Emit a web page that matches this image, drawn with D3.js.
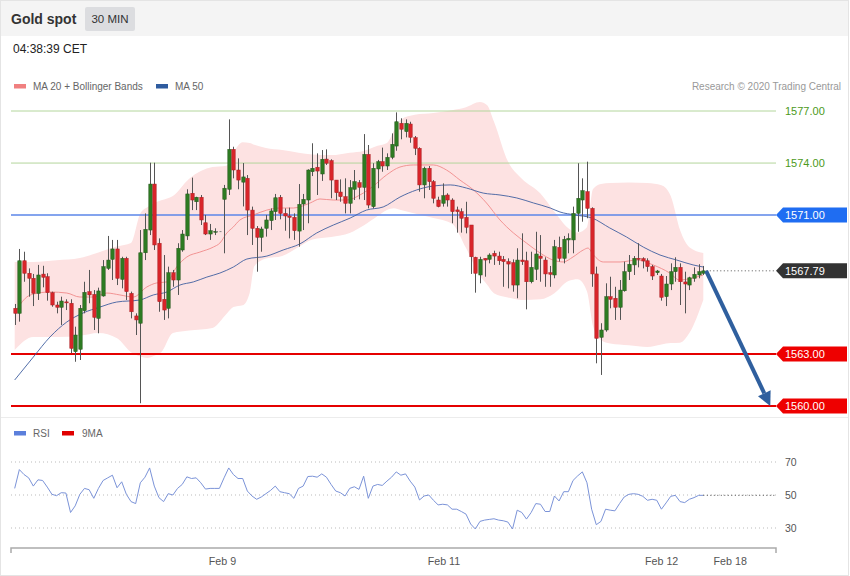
<!DOCTYPE html>
<html><head><meta charset="utf-8">
<script src="https://cdn.jsdelivr.net/npm/d3@7"></script>
<style>body{margin:0;background:#fff;}svg{display:block;font-family:"Liberation Sans",Arial,sans-serif;}</style>
</head><body><svg id="c" width="850" height="576"></svg>
<script>
// ---------- DATA ----------
const title = "Gold spot";
const period = "30 MIN";
const timeLabel = "04:38:39 CET";
const credit = "Research \u00A9 2020 Trading Central";

const opens = [1565.63,1565.34,1568.37,1567.65,1567.36,1566.49,1567.60,1567.45,1566.53,1565.82,
1565.69,1566.00,1565.92,1563.13,1563.27,1565.49,1566.59,1566.43,1565.05,1566.34,
1567.93,1568.45,1569.05,1567.30,1568.51,1566.49,1565.19,1564.77,1568.83,1570.14,
1572.79,1569.38,1566.15,1565.63,1567.68,1567.26,1568.99,1569.80,1572.26,1571.77,
1572.03,1570.56,1569.91,1570.05,1570.05,1571.91,1572.49,1574.79,1573.60,1572.90,
1573.12,1571.29,1570.24,1569.72,1570.24,1570.68,1571.20,1572.03,1571.10,1570.95,
1570.87,1570.08,1571.64,1571.87,1573.50,1573.76,1573.37,1574.23,1574.14,1573.02,
1572.33,1572.06,1571.68,1572.49,1572.87,1572.60,1574.50,1571.49,1573.66,1574.08,
1573.83,1574.33,1574.98,1576.29,1575.81,1576.25,1575.46,1574.85,1572.74,1573.70,
1572.93,1571.87,1571.68,1572.16,1571.87,1571.30,1571.20,1570.87,1570.43,1568.57,
1567.55,1568.51,1568.45,1568.80,1568.64,1568.45,1568.32,1568.26,1566.97,1568.41,
1568.37,1567.16,1567.88,1568.64,1568.41,1567.68,1567.55,1569.14,1568.51,1569.57,
1569.57,1571.10,1571.87,1572.35,1571.39,1567.61,1563.96,1564.38,1566.30,1566.21,
1565.69,1566.64,1567.74,1568.13,1568.51,1568.49,1568.37,1568.03,1567.68,1567.49,
1566.30,1567.03,1567.74,1567.99,1567.15,1566.97,1567.36,1567.55,1567.65];
const highs = [1565.88,1569.05,1568.89,1567.93,1567.61,1568.13,1568.08,1567.65,1566.59,1566.01,
1566.30,1566.15,1566.15,1564.57,1565.82,1567.16,1567.84,1566.68,1566.82,1568.41,
1569.80,1569.57,1569.57,1568.60,1568.60,1566.59,1565.34,1570.14,1571.10,1574.02,
1574.02,1569.66,1568.70,1568.03,1567.84,1569.38,1570.14,1572.49,1573.16,1572.06,
1572.16,1571.01,1570.49,1570.24,1570.05,1572.74,1576.52,1574.94,1574.27,1574.00,
1573.31,1571.49,1570.37,1570.33,1571.01,1571.39,1572.22,1572.16,1571.39,1571.43,
1571.10,1572.79,1572.22,1573.64,1575.14,1574.56,1574.75,1574.79,1574.22,1573.02,
1573.06,1573.12,1573.02,1573.60,1573.02,1575.67,1575.04,1573.99,1574.18,1574.89,
1574.56,1575.71,1576.92,1576.58,1576.52,1576.38,1575.56,1574.91,1573.79,1573.83,
1573.02,1572.06,1572.83,1572.26,1571.97,1571.49,1571.39,1571.77,1570.43,1568.60,
1568.60,1568.51,1568.80,1568.95,1568.89,1568.64,1568.51,1568.45,1569.09,1569.95,
1568.89,1568.89,1570.04,1569.85,1568.57,1568.07,1569.57,1569.76,1569.80,1569.95,
1571.49,1573.99,1573.12,1574.08,1571.45,1568.03,1564.77,1567.07,1567.45,1566.87,
1567.26,1568.32,1568.70,1568.64,1569.38,1568.57,1568.51,1568.13,1567.84,1567.61,
1567.49,1568.22,1568.57,1568.22,1567.74,1567.45,1567.99,1568.17,1568.07];
const lows = [1564.67,1564.86,1567.16,1566.30,1565.76,1566.11,1566.84,1566.07,1565.72,1565.34,
1564.67,1565.53,1563.04,1562.55,1562.65,1565.34,1565.92,1564.38,1564.19,1566.30,
1567.84,1567.26,1566.97,1566.78,1566.11,1565.05,1564.09,1560.16,1568.41,1569.85,
1568.99,1565.43,1564.96,1565.05,1566.87,1566.40,1568.89,1569.57,1571.29,1571.29,
1570.43,1569.85,1569.57,1569.85,1570.05,1568.80,1572.16,1573.12,1572.49,1571.50,
1569.85,1569.28,1567.74,1568.89,1569.76,1570.14,1570.72,1570.76,1570.10,1569.66,
1569.57,1569.18,1570.14,1570.53,1573.25,1572.16,1572.97,1573.89,1571.97,1571.87,
1571.77,1571.10,1571.10,1571.87,1571.91,1571.87,1571.39,1571.39,1572.55,1573.50,
1573.60,1574.22,1574.71,1575.37,1575.48,1575.17,1574.46,1572.35,1571.97,1572.45,
1571.68,1571.45,1571.49,1571.49,1570.53,1569.99,1569.99,1569.95,1567.61,1566.53,
1567.07,1567.45,1568.22,1568.13,1568.13,1566.87,1566.78,1566.59,1566.21,1568.13,
1565.57,1567.07,1567.26,1567.16,1566.87,1566.87,1567.36,1568.32,1568.22,1568.80,
1568.80,1570.04,1570.62,1570.82,1566.87,1562.46,1561.79,1564.28,1565.63,1564.96,
1564.96,1566.59,1567.26,1567.55,1567.99,1567.93,1567.74,1567.26,1567.55,1566.07,
1565.76,1566.68,1567.16,1565.82,1565.34,1566.68,1567.16,1567.36,1567.55];
const closes = [1565.34,1568.37,1567.65,1567.36,1566.49,1567.55,1567.42,1566.53,1565.82,1565.69,
1566.05,1565.98,1563.32,1564.09,1565.63,1566.55,1566.40,1565.11,1566.63,1568.03,
1568.41,1569.05,1567.36,1568.51,1566.59,1565.43,1564.96,1568.83,1570.18,1572.79,
1569.28,1566.01,1565.53,1567.68,1567.26,1569.09,1569.91,1572.22,1571.87,1572.03,
1570.72,1569.91,1570.10,1570.07,1570.05,1572.55,1574.79,1573.60,1573.02,1573.20,
1571.29,1570.24,1569.72,1570.20,1570.72,1571.24,1572.00,1571.10,1570.95,1570.87,
1570.10,1571.62,1571.91,1573.60,1573.70,1573.54,1574.22,1573.99,1573.02,1572.29,
1572.06,1571.68,1572.58,1572.93,1572.60,1574.50,1571.58,1573.70,1574.08,1573.83,
1574.33,1575.08,1576.38,1575.95,1576.29,1575.48,1574.85,1572.74,1573.70,1572.93,
1571.97,1571.49,1572.12,1571.87,1571.20,1571.20,1570.82,1570.30,1568.60,1567.65,
1568.45,1568.41,1568.70,1568.64,1568.37,1568.32,1568.18,1566.97,1568.41,1568.32,
1567.16,1567.99,1568.76,1568.51,1567.61,1567.59,1569.18,1568.51,1569.61,1569.66,
1571.10,1571.97,1572.41,1571.39,1567.61,1563.90,1564.38,1566.30,1566.15,1565.69,
1566.68,1567.74,1568.17,1568.51,1568.45,1568.36,1568.03,1567.49,1567.78,1566.26,
1567.03,1567.74,1567.99,1567.16,1567.03,1567.39,1567.59,1567.74,1567.79];

// moving averages and bands, read at sample candle positions
const ma20Idx = [0,2.6,4,7.6,11.2,14,16.9,19.8,22.6,25.5,28.4,30.5,32.7,34.8,37,39.8,42.7,44.1,45.6,47,48.4,51.3,54.2,57,59.9,63.5,65.6,68.5,71.4,74.2,77.1,79.9,82.8,85.7,90,92.8,95.7,98.6,101.4,104.3,107.2,110,112.9,115.7,117.9,120,122.2,123.2,124.4,126.5,130.1,133.7,137.2,140.8,142.9,145.8,148];
const ma20Val = [1565.36,1566.28,1566.45,1566.57,1566.51,1566.28,1566.28,1566.51,1566.40,1566.28,1566.86,1567.09,1567.15,1568.01,1568.59,1568.87,1569.16,1569.39,1569.97,1570.32,1570.72,1571.01,1571.29,1571.41,1571.41,1571.70,1571.93,1571.87,1571.87,1572.16,1572.68,1573.31,1573.77,1573.89,1573.89,1573.60,1573.02,1572.45,1571.70,1570.72,1569.97,1569.39,1568.82,1568.41,1568.30,1568.59,1568.99,1569.10,1568.70,1568.30,1568.30,1568.41,1568.13,1567.66,1567.26,1567.38,1567.55];
const ma50Idx = [0,4,7.6,11.2,14.7,18.3,21.9,26.9,29.8,32.7,35.5,38.4,41.3,44.1,47,49.9,54.2,57.7,61.3,64.9,68.5,72.1,75.6,79.2,82.8,86.4,90,93.6,97.1,100.7,104.3,107.9,111.5,115.1,117.2,120.4,124.1,127.9,131.5,135.1,138.7,142.3,145.8,148];
const ma50Val = [1561.50,1562.82,1563.98,1564.84,1565.36,1565.70,1565.99,1566.11,1566.40,1566.57,1566.97,1567.15,1567.43,1567.66,1568.01,1568.47,1568.64,1568.99,1569.34,1569.97,1570.43,1570.83,1571.29,1571.47,1572.04,1572.45,1572.68,1572.74,1572.56,1572.27,1572.16,1571.99,1571.70,1571.41,1571.18,1571.01,1570.83,1570.26,1569.74,1569.16,1568.70,1568.41,1568.13,1568.01];
const bandIdx = [0,4,9,14,18,22,25,27,28.5,30,31.5,34,37.5,42.5,45.5,47,49,50.5,51.5,54,57.5,61,64,68,72,75,78,80,81.5,83,86,90,94,97,100,101.5,103,106,109,113,116,119,121,123,124.3,126,128,132,136,139,141,143,145,148];
const bandUpper = [1568.30,1568.30,1568.40,1568.53,1568.85,1569.20,1569.40,1571.10,1571.45,1571.70,1571.85,1572.10,1573.10,1573.77,1573.85,1574.60,1575.20,1575.16,1575.05,1574.87,1574.75,1574.60,1574.50,1574.46,1574.60,1574.70,1575.00,1575.16,1575.85,1576.50,1576.78,1576.88,1577.05,1577.22,1577.52,1577.35,1576.40,1574.10,1573.10,1572.25,1571.20,1570.25,1570.00,1570.30,1572.50,1572.80,1572.85,1572.88,1572.85,1572.72,1572.10,1570.14,1569.15,1568.82];
const bandLower = [1563.23,1563.98,1563.98,1564.05,1564.21,1563.90,1563.10,1562.85,1562.77,1562.90,1563.10,1564.21,1564.35,1564.50,1565.30,1565.70,1565.80,1566.51,1568.05,1568.50,1568.65,1569.16,1569.60,1569.74,1569.97,1570.40,1570.95,1571.30,1571.40,1571.29,1571.10,1570.83,1570.50,1569.10,1567.50,1567.00,1566.50,1566.25,1566.11,1566.15,1566.50,1567.20,1567.30,1566.60,1564.60,1563.80,1563.60,1563.50,1563.40,1563.55,1563.63,1563.65,1564.20,1566.11];

const rsi = [54.0,65.4,62.4,60.4,55.4,59.2,58.8,54.8,50.4,49.6,51.4,51.2,39.4,43.4,50.4,54.0,53.2,48.0,54.0,58.8,
60.4,62.0,54.4,58.0,50.4,46.0,44.8,57.4,60.8,66.4,55.4,48.4,46.0,50.8,50.0,54.0,56.4,61.0,60.0,60.4,
57.4,53.6,54.0,54.0,54.0,60.4,66.4,62.4,60.0,60.0,52.4,49.4,47.4,48.8,50.8,52.8,55.4,52.0,51.4,50.8,
48.0,54.0,55.4,61.2,61.4,60.8,62.8,60.8,56.4,52.4,51.4,49.4,54.0,55.0,53.4,61.4,48.0,55.4,56.4,55.8,
58.4,60.8,64.0,62.0,62.8,58.4,54.8,47.0,49.4,50.0,46.8,44.0,44.4,44.0,41.4,41.4,40.0,38.4,32.4,29.4,
34.0,34.8,35.2,35.6,34.8,34.4,33.6,29.4,40.8,39.4,35.4,39.4,44.8,44.4,40.0,40.0,49.4,46.4,52.0,52.0,
58.8,61.6,64.0,57.4,41.4,32.0,34.0,41.4,40.8,40.4,44.8,48.8,50.4,50.8,50.4,49.2,46.8,47.4,46.8,41.4,
45.2,49.2,49.8,46.0,45.4,47.4,48.4,49.8,49.8];

const levelPrices = [1577, 1574, 1571, 1563, 1560];
const levelKinds  = ["res", "res", "pivot", "sup", "sup"];
const lastPrice = 1567.79;
const rsiTicks = [70, 50, 30];
const xTickLabels = ["Feb 9", "Feb 11", "Feb 12", "Feb 18"];
const xTickIdx = [44.66, 92.26, 139.05, 153.79];
const arrowFrom = {i: 148.6, p: 1567.79};
const arrowTo = {i: 162.4, p: 1560.0};

// ---------- DRAW ----------
const svg = d3.select("#c");
const N = closes.length;
const x = d3.scaleLinear().domain([0, N - 1]).range([14.7, 703.3]);
const y = d3.scaleLinear().domain([1560, 1577]).range([406, 111]);
const yr = d3.scaleLinear().domain([30, 70]).range([528, 462]);
const L = 11, R = 776;

svg.append("rect").attr("x",0.5).attr("y",0.5).attr("width",848).attr("height",575)
  .attr("fill","#fff").attr("stroke","#e4e4e4");
svg.append("rect").attr("x",1).attr("y",1).attr("width",847).attr("height",35).attr("fill","#f4f4f4");
svg.append("text").attr("x",11).attr("y",24).attr("font-size",14).attr("font-weight","bold")
  .attr("fill","#333").text(title);
svg.append("rect").attr("x",85).attr("y",7).attr("width",50).attr("height",24).attr("rx",2).attr("fill","#dcdde0");
svg.append("text").attr("x",110).attr("y",23).attr("text-anchor","middle").attr("font-size",11.5)
  .attr("fill","#333").text(period);
svg.append("text").attr("x",13).attr("y",53).attr("font-size",12).attr("fill","#222").text(timeLabel);

// legend
const lg = svg.append("g").attr("font-size",10).attr("fill","#666");
lg.append("rect").attr("x",14).attr("y",84).attr("width",12).attr("height",4.5).attr("fill","#f08080");
lg.append("text").attr("x",33).attr("y",90).text("MA 20 + Bollinger Bands");
lg.append("rect").attr("x",156).attr("y",84).attr("width",12).attr("height",4.5).attr("fill","#2f5c9f");
lg.append("text").attr("x",175).attr("y",90).text("MA 50");
svg.append("text").attr("x",841).attr("y",90).attr("text-anchor","end").attr("font-size",10)
  .attr("fill","#999").text(credit);

// bollinger band
const band = bandIdx.map((d,k)=>({i:d, u:bandUpper[k], l:bandLower[k]}));
svg.append("path").datum(band)
  .attr("d", d3.area().x(d=>x(d.i)).y0(d=>y(d.l)).y1(d=>y(d.u)).curve(d3.curveMonotoneX))
  .attr("fill","#fde2e2");

// horizontal levels
levelPrices.forEach((p,k)=>{
  const kind = levelKinds[k];
  const col = kind==="res" ? "#b3d69c" : kind==="pivot" ? "#5b86e8" : "#e50000";
  const w = kind==="res" ? 1 : kind==="pivot" ? 1.5 : 2;
  svg.append("line").attr("x1",L).attr("x2",R).attr("y1",y(p)).attr("y2",y(p))
    .attr("stroke",col).attr("stroke-width",w);
});

// MA lines
svg.append("path").datum(ma20Idx.map((d,k)=>[d,ma20Val[k]]))
  .attr("d", d3.line().x(d=>x(d[0])).y(d=>y(d[1])).curve(d3.curveMonotoneX))
  .attr("fill","none").attr("stroke","#f08a8a").attr("stroke-width",0.9);
svg.append("path").datum(ma50Idx.map((d,k)=>[d,ma50Val[k]]))
  .attr("d", d3.line().x(d=>x(d[0])).y(d=>y(d[1])).curve(d3.curveMonotoneX))
  .attr("fill","none").attr("stroke","#3f5f9f").attr("stroke-width",0.9);

// candles
const cg = svg.append("g");
for (let i=0;i<N;i++){
  const o=opens[i], c=closes[i], h=highs[i], l=lows[i];
  const cx = Math.round(x(i))+0.5;
  if (h===l) {
    cg.append("line").attr("x1",cx-3.5).attr("x2",cx+3.5).attr("y1",y(c)).attr("y2",y(c))
      .attr("stroke","#888").attr("stroke-dasharray","2,1.5");
    continue;
  }
  cg.append("line").attr("x1",cx).attr("x2",cx).attr("y1",y(h)).attr("y2",y(l))
    .attr("stroke","#555").attr("stroke-width",1);
  const up = c>=o;
  const top = y(Math.max(o,c)), bot = y(Math.min(o,c));
  cg.append("rect").attr("x",cx-1.7).attr("width",3.4).attr("y",top).attr("height",Math.max(1,bot-top))
    .attr("fill", up ? "#2e7b22" : "#d9252a").attr("stroke", up ? "#24561b" : "#a81e22").attr("stroke-width",0.5);
}

// last price dotted extension
svg.append("line").attr("x1",x(N-1)+3).attr("x2",R).attr("y1",y(lastPrice)).attr("y2",y(lastPrice))
  .attr("stroke","#555").attr("stroke-dasharray","1,2.5");

// price tags
function tag(p, fill, txtCol, text){
  const yy = y(p);
  if (fill) {
    svg.append("path").attr("d",`M${R},${yy} L${R+7},${yy-7.5} L847,${yy-7.5} L847,${yy+7.5} L${R+7},${yy+7.5} Z`)
      .attr("fill",fill);
  }
  svg.append("text").attr("x",785).attr("y",yy+4).attr("font-size",11).attr("fill",txtCol).text(text);
}
levelPrices.forEach((p,k)=>{
  const kind = levelKinds[k];
  if (kind==="res") tag(p,null,"#4c9a1c",p.toFixed(2));
  else if (kind==="pivot") tag(p,"#1f6df2","#fff",p.toFixed(2));
  else tag(p,"#ee0000","#fff",p.toFixed(2));
});
tag(lastPrice,"#333333","#fff",lastPrice.toFixed(2));

// forecast arrow
const ax1 = x(arrowFrom.i), ay1 = y(arrowFrom.p), ax2 = x(arrowTo.i), ay2 = y(arrowTo.p);
const ang = Math.atan2(ay2-ay1, ax2-ax1);
const hl = 14, hw = 7;
const bx = ax2 - hl*Math.cos(ang), by = ay2 - hl*Math.sin(ang);
svg.append("line").attr("x1",ax1).attr("y1",ay1).attr("x2",bx).attr("y2",by)
  .attr("stroke","#2f5f9e").attr("stroke-width",4);
svg.append("path").attr("d",`M${ax2},${ay2} L${bx+hw*Math.sin(ang)},${by-hw*Math.cos(ang)} L${bx-hw*Math.sin(ang)},${by+hw*Math.cos(ang)} Z`)
  .attr("fill","#2f5f9e");

// panel separator
svg.append("line").attr("x1",1).attr("x2",848).attr("y1",417.5).attr("y2",417.5).attr("stroke","#ececec");

// RSI legend
const rl = svg.append("g").attr("font-size",10).attr("fill","#666");
rl.append("rect").attr("x",14).attr("y",431).attr("width",12).attr("height",4.5).attr("fill","#5b7fdb");
rl.append("text").attr("x",33).attr("y",437).text("RSI");
rl.append("rect").attr("x",62).attr("y",431).attr("width",12).attr("height",4.5).attr("fill","#e00000");
rl.append("text").attr("x",82).attr("y",437).text("9MA");

// RSI grid
rsiTicks.forEach(t=>{
  svg.append("line").attr("x1",L).attr("x2",R).attr("y1",yr(t)).attr("y2",yr(t))
    .attr("stroke","#bbb").attr("stroke-dasharray","1,3");
  svg.append("text").attr("x",785).attr("y",yr(t)+4).attr("font-size",10.5).attr("fill","#555").text(t);
});
svg.append("path").datum(rsi)
  .attr("d", d3.line().x((d,i)=>x(i)).y(d=>yr(d)))
  .attr("fill","none").attr("stroke","#7b93d8").attr("stroke-width",1);
svg.append("line").attr("x1",x(N-1)).attr("x2",R).attr("y1",yr(rsi[N-1])).attr("y2",yr(rsi[N-1]))
  .attr("stroke","#555").attr("stroke-dasharray","1,2.5");

// x axis
const axG = svg.append("g").attr("transform","translate(0,548)");
axG.append("path").attr("d",`M${L},5 V0 H${R} V5`).attr("fill","none").attr("stroke","#aaa").attr("stroke-width",1.5);
xTickLabels.forEach((t,k)=>{
  axG.append("text").attr("x",x(xTickIdx[k])).attr("y",17).attr("text-anchor","middle")
    .attr("font-size",10.7).attr("fill","#555").text(t);
});
</script></body></html>
